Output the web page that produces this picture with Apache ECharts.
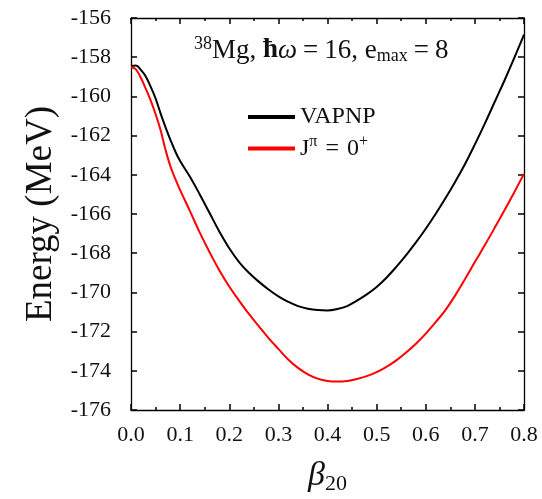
<!DOCTYPE html>
<html><head><meta charset="utf-8">
<script src="https://cdn.jsdelivr.net/npm/echarts@6/dist/echarts.min.js"></script>
<style>html,body{margin:0;padding:0;background:#fff}#c{width:542px;height:499px}</style>
</head><body><div id="c"></div>
<script>
const beta = [0.00,0.01,0.02,0.03,0.04,0.05,0.06,0.07,0.08,0.09,0.10,0.12,0.14,0.16,0.18,0.20,0.22,0.24,0.26,0.28,0.30,0.32,0.34,0.36,0.38,0.40,0.42,0.44,0.46,0.48,0.50,0.52,0.54,0.56,0.58,0.60,0.62,0.64,0.66,0.68,0.70,0.72,0.74,0.76,0.78,0.80];
const vapnp = [-158.45,-158.42,-158.65,-158.98,-159.5,-160.1,-160.85,-161.55,-162.2,-162.8,-163.3,-164.1,-165.0,-165.95,-166.9,-167.75,-168.45,-169.0,-169.45,-169.85,-170.2,-170.48,-170.7,-170.83,-170.9,-170.92,-170.85,-170.7,-170.42,-170.1,-169.72,-169.25,-168.7,-168.1,-167.45,-166.75,-166.0,-165.2,-164.35,-163.45,-162.45,-161.4,-160.3,-159.2,-158.05,-156.85];
const jpi0 = [-158.5,-158.62,-159.05,-159.6,-160.2,-160.9,-161.7,-162.7,-163.55,-164.2,-164.78,-165.85,-166.95,-167.95,-168.88,-169.7,-170.42,-171.1,-171.72,-172.33,-172.88,-173.42,-173.85,-174.18,-174.4,-174.52,-174.55,-174.52,-174.42,-174.27,-174.07,-173.8,-173.47,-173.07,-172.62,-172.1,-171.52,-170.9,-170.15,-169.32,-168.45,-167.6,-166.72,-165.82,-164.9,-163.95];
const xTicks = ['0.0','0.1','0.2','0.3','0.4','0.5','0.6','0.7','0.8'];
const yTicks = ['-176','-174','-172','-170','-168','-166','-164','-162','-160','-158','-156'];

const F = 'Liberation Serif';
const chart = echarts.init(document.getElementById('c'));
const axLine = () => ({show:true, onZero:false, lineStyle:{color:'#000', width:1.3}});
const tick = () => ({show:true, inside:true, length:6, lineStyle:{color:'#000', width:1.5}});
const minor = () => ({show:true, splitNumber:2, length:3, lineStyle:{color:'#000', width:1.5}});
chart.setOption({
  animation:false,
  grid:{left:131, top:18, right:18, bottom:89, outerBoundsMode:'none'},
  title:{
    left:189, top:30,
    text:'{sup|38}{t|Mg, }{hb|ħ}{w|ω}{eq|=}{t|16, e}{sub|max}{eq|=}{t|8}',
    textStyle:{fontWeight:'normal', rich:{
      t:{fontFamily:F, fontSize:27, fontWeight:'normal', color:'#111'},
      eq:{fontFamily:F, fontSize:27, fontWeight:'normal', color:'#111', padding:[0,6,0,6]},
      hb:{fontFamily:F, fontSize:27, fontWeight:'bold', color:'#111'},
      w:{fontFamily:F, fontSize:27, fontStyle:'italic', fontWeight:'normal', color:'#111'},
      sup:{fontFamily:F, fontSize:18, fontWeight:'normal', color:'#111', padding:[0,0,13,0]},
      sub:{fontFamily:F, fontSize:18, fontWeight:'normal', color:'#111', padding:[11,0,0,0]}
    }}
  },
  legend:{
    orient:'vertical', left:243, top:100, itemWidth:47, itemHeight:4, itemGap:5,
    icon:'rect',
    formatter:function(n){ return n==='VAPNP' ? '{t|VAPNP}' : '{t|J}{sup|π}{eq| = }{t|0}{sup|+}'; },
    textStyle:{rich:{
      t:{fontFamily:F, fontSize:24, color:'#111'},
      eq:{fontFamily:F, fontSize:24, color:'#111', padding:[0,2,0,2]},
      sup:{fontFamily:F, fontSize:16, color:'#111', padding:[0,0,13,0]}
    }}
  },
  xAxis:[{
    type:'value', min:0, max:0.8, interval:0.1, position:'bottom',
    axisLine:axLine(), axisTick:tick(), minorTick:minor(), splitLine:{show:false},
    axisLabel:{margin:14, fontFamily:F, fontSize:22, color:'#111',
      formatter:v=>xTicks[Math.round(v*10)]},
    name:'{b|β}{s|20}', nameLocation:'middle', nameGap:47,
    nameTextStyle:{rich:{
      b:{fontFamily:F, fontSize:34, fontStyle:'italic', color:'#111'},
      s:{fontFamily:F, fontSize:22, color:'#111', padding:[16,0,0,0]}
    }}
  },{
    type:'value', min:0, max:0.8, interval:0.1, position:'top',
    axisLine:axLine(), axisTick:tick(), minorTick:minor(), splitLine:{show:false}, axisLabel:{show:false}
  }],
  yAxis:[{
    type:'value', min:-176, max:-156, interval:2, position:'left',
    axisLine:axLine(), axisTick:tick(), splitLine:{show:false},
    axisLabel:{margin:20, fontFamily:F, fontSize:22, color:'#111',
      formatter:v=>yTicks[Math.round((v+176)/2)]},
    name:'Energy (MeV)', nameLocation:'middle', nameGap:66, nameRotate:90,
    nameTextStyle:{fontFamily:F, fontSize:37, color:'#111'}
  },{
    type:'value', min:-176, max:-156, interval:2, position:'right',
    axisLine:axLine(), axisTick:tick(), splitLine:{show:false}, axisLabel:{show:false}
  }],
  series:[
    {name:'VAPNP', type:'line', smooth:0.4, showSymbol:false, symbol:'none',
     data:beta.map((b,i)=>[b,vapnp[i]]), lineStyle:{color:'#000', width:2}, itemStyle:{color:'#000'}},
    {name:'J^π = 0^+', type:'line', smooth:0.4, showSymbol:false, symbol:'none',
     data:beta.map((b,i)=>[b,jpi0[i]]), lineStyle:{color:'#ff0000', width:2}, itemStyle:{color:'#ff0000'}}
  ]
});
</script></body></html>
